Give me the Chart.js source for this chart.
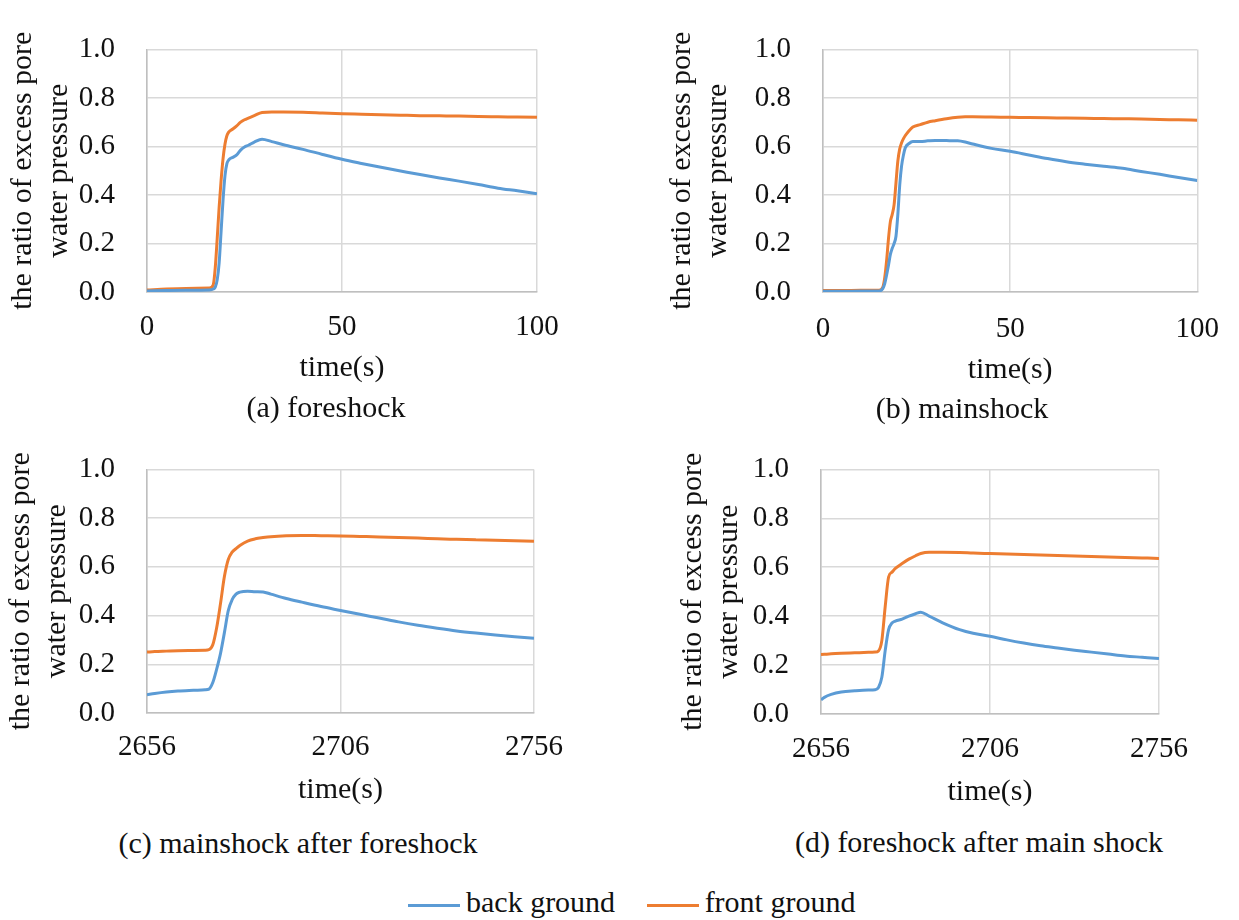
<!DOCTYPE html>
<html>
<head>
<meta charset="utf-8">
<script src="https://cdn.jsdelivr.net/npm/chart.js@4.4.1/dist/chart.umd.min.js"></script>
<style>
  body { margin: 0; background: #fff; width: 1239px; height: 920px; position: relative; overflow: hidden;
         font-family: "Liberation Serif", Tinos, "DejaVu Serif", serif; color: #111; }
  canvas { position: absolute; }
  .caption { position: absolute; font-size: 30px; white-space: nowrap; transform: translate(-50%, -50%); }
  .legend { position: absolute; left: 408px; top: 885px; font-size: 30px; white-space: nowrap; }
  .legend span.line { display: inline-block; width: 52px; height: 3px; vertical-align: middle; margin-right: 6px; }
</style>
</head>
<body>
<canvas id="chartA" width="580" height="395" style="left:0px;top:0px"></canvas>
<canvas id="chartB" width="599" height="395" style="left:640px;top:0px"></canvas>
<canvas id="chartC" width="580" height="395" style="left:0px;top:420px"></canvas>
<canvas id="chartD" width="599" height="395" style="left:640px;top:420px"></canvas>

<div class="caption" style="left:326px;top:407px">(a) foreshock</div>
<div class="caption" style="left:962px;top:408px">(b) mainshock</div>
<div class="caption" style="left:298px;top:843px">(c) mainshock after foreshock</div>
<div class="caption" style="left:979px;top:842px">(d) foreshock after main shock</div>

<div class="legend">
  <span class="line" style="background:#5b9bd5"></span>back ground
  <span class="line" style="background:#ed7d31;margin-left:24px"></span>front ground
</div>

<script>
// series names
const seriesNames = ['back ground', 'front ground'];

// (a) foreshock
const aTime = [0, 5, 10, 16, 17, 17.5, 18, 18.5, 19, 19.5, 20, 20.5, 21, 22, 23, 24, 25, 26, 27.5, 29.5, 32, 35, 40, 45, 50, 55, 60, 65, 70, 75, 80, 85, 90, 95, 100];
const aBack = [0.004, 0.006, 0.007, 0.008, 0.012, 0.02, 0.05, 0.12, 0.25, 0.38, 0.48, 0.53, 0.545, 0.555, 0.565, 0.585, 0.598, 0.605, 0.618, 0.63, 0.62, 0.607, 0.588, 0.567, 0.547, 0.53, 0.514, 0.499, 0.484, 0.47, 0.457, 0.443, 0.428, 0.417, 0.405];
const aFront = [0.008, 0.012, 0.014, 0.016, 0.03, 0.1, 0.22, 0.35, 0.46, 0.55, 0.61, 0.645, 0.66, 0.672, 0.685, 0.7, 0.71, 0.717, 0.727, 0.74, 0.742, 0.742, 0.741, 0.738, 0.735, 0.733, 0.731, 0.729, 0.727, 0.726, 0.725, 0.723, 0.722, 0.721, 0.72];

// (b) mainshock
const bTime = [0, 5, 10, 15, 16, 16.5, 17, 17.5, 18, 18.5, 19, 19.5, 20, 20.5, 21, 21.5, 22, 23, 24, 26, 28, 30, 33, 36, 38, 40, 45, 50, 55, 60, 65, 70, 75, 80, 85, 90, 95, 100];
const bBack = [0.003, 0.003, 0.004, 0.004, 0.015, 0.035, 0.07, 0.11, 0.155, 0.18, 0.2, 0.23, 0.32, 0.44, 0.52, 0.565, 0.595, 0.612, 0.62, 0.62, 0.623, 0.625, 0.624, 0.623, 0.618, 0.61, 0.592, 0.58, 0.565, 0.55, 0.537, 0.527, 0.518, 0.51, 0.497, 0.485, 0.472, 0.46];
const bFront = [0.006, 0.006, 0.007, 0.007, 0.02, 0.06, 0.13, 0.22, 0.29, 0.32, 0.36, 0.45, 0.54, 0.59, 0.615, 0.632, 0.645, 0.665, 0.68, 0.69, 0.7, 0.706, 0.714, 0.72, 0.722, 0.722, 0.721, 0.72, 0.719, 0.718, 0.717, 0.716, 0.715, 0.714, 0.713, 0.711, 0.71, 0.708];

// (c) mainshock after foreshock
const cTime = [2656, 2658, 2661, 2664, 2668, 2671, 2672, 2673, 2674, 2675, 2676, 2677, 2678, 2679, 2680, 2682, 2684, 2686, 2688, 2692, 2696, 2701, 2706, 2711, 2716, 2721, 2726, 2731, 2736, 2741, 2746, 2751, 2756];
const cBack = [0.075, 0.08, 0.086, 0.09, 0.093, 0.095, 0.098, 0.125, 0.18, 0.245, 0.33, 0.42, 0.465, 0.488, 0.496, 0.5, 0.498, 0.497, 0.488, 0.47, 0.455, 0.437, 0.421, 0.405, 0.39, 0.374, 0.36, 0.348, 0.337, 0.328, 0.32, 0.313, 0.307];
const cFront = [0.25, 0.252, 0.254, 0.256, 0.257, 0.258, 0.26, 0.28, 0.35, 0.45, 0.56, 0.63, 0.66, 0.675, 0.688, 0.706, 0.715, 0.72, 0.724, 0.728, 0.729, 0.728, 0.727, 0.725, 0.723, 0.72, 0.718, 0.715, 0.713, 0.711, 0.709, 0.707, 0.705];

// (d) foreshock after main shock
const dTime = [2656, 2657, 2659, 2662, 2666, 2670, 2672, 2673, 2674, 2675, 2676, 2677, 2678, 2680, 2682, 2684, 2685.5, 2688, 2692, 2697, 2701, 2706, 2711, 2716, 2721, 2726, 2731, 2736, 2741, 2746, 2751, 2756];
const dBack = [0.058, 0.068, 0.08, 0.09, 0.095, 0.098, 0.099, 0.108, 0.15, 0.26, 0.345, 0.372, 0.38, 0.388, 0.4, 0.41, 0.416, 0.4, 0.373, 0.345, 0.33, 0.318, 0.303, 0.29, 0.279, 0.27, 0.261, 0.253, 0.245, 0.237, 0.232, 0.227];
const dFront = [0.243, 0.244, 0.246, 0.248, 0.25, 0.252, 0.253, 0.258, 0.3, 0.44, 0.56, 0.58, 0.595, 0.615, 0.633, 0.647, 0.656, 0.661, 0.661, 0.66, 0.658, 0.656, 0.654, 0.652, 0.65, 0.648, 0.646, 0.644, 0.642, 0.64, 0.638, 0.636];

// axis ticks
const yTicks = [0, 0.2, 0.4, 0.6, 0.8, 1.0];
const xTicksTop = [0, 50, 100];
const xTicksBottom = [2656, 2706, 2756];

const yTitle = ['the ratio of excess pore', 'water pressure'];
const xTitle = 'time(s)';

Chart.defaults.font.family = '"Liberation Serif", Tinos, "DejaVu Serif", serif';
Chart.defaults.font.size = 29;
Chart.defaults.color = '#111';

function toPoints(xs, ys) {
  return xs.map((x, i) => ({ x: x, y: ys[i] }));
}

// box = canvas-local chart area and text spacing for each panel
function makeChart(id, time, back, front, xTicks, box) {
  const ctx = document.getElementById(id).getContext('2d');
  return new Chart(ctx, {
    type: 'line',
    data: {
      datasets: [
        { label: seriesNames[0], data: toPoints(time, back), borderColor: '#5b9bd5', borderWidth: 3, pointRadius: 0, cubicInterpolationMode: 'monotone' },
        { label: seriesNames[1], data: toPoints(time, front), borderColor: '#ed7d31', borderWidth: 3, pointRadius: 0, cubicInterpolationMode: 'monotone' }
      ]
    },
    options: {
      responsive: false,
      animation: false,
      layout: { padding: { top: box.top, right: box.right, left: 0, bottom: 0 } },
      plugins: { legend: { display: false }, tooltip: { enabled: false } },
      scales: {
        x: {
          type: 'linear',
          min: xTicks[0],
          max: xTicks[xTicks.length - 1],
          afterBuildTicks: (s) => { s.ticks = xTicks.map(v => ({ value: v })); },
          afterFit: (s) => { s.height = box.xh; },
          ticks: { padding: box.xTickPad, autoSkip: false, maxRotation: 0, callback: (v) => String(v) },
          grid: { color: '#d9d9d9', lineWidth: 1.5, drawTicks: false },
          border: { color: '#bfbfbf', width: 1.5 },
          title: { display: true, text: xTitle, padding: { top: 0, bottom: box.xTitlePad }, font: { size: 30, lineHeight: 1.2 } }
        },
        y: {
          min: 0,
          max: 1,
          afterBuildTicks: (s) => { s.ticks = yTicks.map(v => ({ value: v })); },
          afterFit: (s) => { s.width = box.yw; },
          ticks: { padding: 32, callback: (v) => v.toFixed(1) },
          grid: { color: '#d9d9d9', lineWidth: 1.5, drawTicks: false },
          border: { color: '#bfbfbf', width: 1.5 },
          title: { display: true, text: yTitle, padding: { top: box.yTitlePad, bottom: 0 }, font: { size: 30, lineHeight: 1.2 } }
        }
      }
    }
  });
}

makeChart('chartA', aTime, aBack, aFront, xTicksTop,
  { top: 22, right: 43, yw: 147, xh: 103, xTickPad: 18, xTitlePad: 9, yTitlePad: 5 });
makeChart('chartB', bTime, bBack, bFront, xTicksTop,
  { top: 22, right: 33, yw: 183, xh: 103, xTickPad: 20, xTitlePad: 7, yTitlePad: 24 });
makeChart('chartC', cTime, cBack, cFront, xTicksBottom,
  { top: 27, right: 45, yw: 147, xh: 102, xTickPad: 17, xTitlePad: 7, yTitlePad: 3 });
makeChart('chartD', dTime, dBack, dFront, xTicksBottom,
  { top: 35, right: 80, yw: 181, xh: 101, xTickPad: 18, xTitlePad: 5, yTitlePad: 35 });
</script>
</body>
</html>
